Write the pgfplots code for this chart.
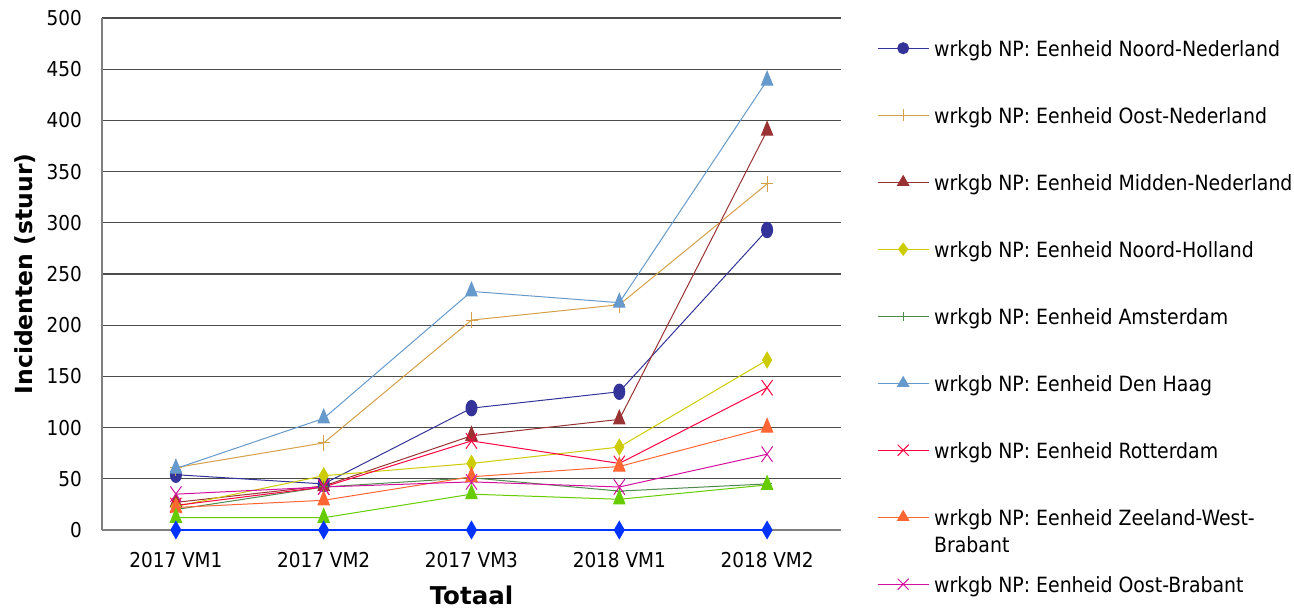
\documentclass[border=0pt]{standalone}
\usepackage{fontspec}
\setmainfont{DejaVu Sans Condensed}
\newfontfamily\labelfont{DejaVu Sans}
\usepackage{pgfplots}
\pgfplotsset{compat=1.18}
\definecolor{cNN}{HTML}{333399}
\definecolor{cON}{HTML}{D4A04A}
\definecolor{cMN}{HTML}{993333}
\definecolor{cNH}{HTML}{CCCC00}
\definecolor{cAM}{HTML}{4F8A4F}
\definecolor{cDH}{HTML}{6699CC}
\definecolor{cRO}{HTML}{FF0040}
\definecolor{cZW}{HTML}{FF6633}
\definecolor{cOB}{HTML}{D4119E}
\definecolor{cLI}{HTML}{66CC00}
\definecolor{cBL}{HTML}{0033FF}
\begin{document}
\begin{tikzpicture}
\path[use as bounding box] (0,0) rectangle (1294pt,608pt);
\begin{axis}[
  at={(102pt,78pt)}, anchor=south west,
  scale only axis, width=739pt, height=512pt,
  xmin=-0.5, xmax=4.5, ymin=0, ymax=500,
  xtick={0,1,2,3,4},
  xticklabels={2017 VM1,2017 VM2,2017 VM3,2018 VM1,2018 VM2},
  ytick={0,50,...,500},
  major tick length=0pt,
  ymajorgrids, major grid style={color=black!70, line width=1.3pt},
  axis x line*=bottom, axis y line*=left,
  axis line style={draw=black!50, line width=1.3pt, -},
  /pgf/number format/assume math mode=true,
  tick label style={font=\fontsize{20.5}{24}\selectfont},
  xticklabel style={inner sep=0pt, anchor=north, yshift=-22pt},
  yticklabel style={inner sep=0pt, anchor=east, xshift=-20pt},
  xlabel={Totaal}, ylabel={Incidenten (stuur)},
  every axis x label/.style={at={(axis description cs:0.5,0)}, anchor=center, yshift=-65pt, font=\labelfont\bfseries\fontsize{24.5}{28}\selectfont},
  every axis y label/.style={at={(axis description cs:0,0.5)}, anchor=center, rotate=90, yshift=77pt, font=\labelfont\bfseries\fontsize{23.5}{26}\selectfont},
  clip=false,
  legend style={at={(1.0487,0.9648)}, anchor=north west, draw=none, fill=none, inner sep=0pt, row sep=43pt, column sep=5pt, font=\fontsize{21}{27}\selectfont, nodes={inner sep=0pt, text height=20pt, text depth=4pt}},
  legend cell align=left,
  legend image code/.code={\draw[mark repeat=2,mark phase=2] plot coordinates {(0pt,0pt) (25.5pt,0pt) (51pt,0pt)};},
  legend image post style={mark options={}},
  every axis plot/.append style={line width=1pt},
]
\addplot[color=cNN, mark=*, mark size=5.5pt, mark options={yscale=1.4}] coordinates {(0,54) (1,45) (2,119) (3,135) (4,293)};
\addlegendentry{wrkgb NP: Eenheid Noord-Nederland}
\addplot[color=cON, mark=+, mark size=6pt, mark options={yscale=1.35}] coordinates {(0,61) (1,85) (2,205) (3,220) (4,338)};
\addlegendentry{wrkgb NP: Eenheid Oost-Nederland}
\addplot[color=cMN, mark=triangle*, mark size=6.5pt, mark options={yscale=1.4}] coordinates {(0,27) (1,43) (2,92) (3,108) (4,390)};
\addlegendentry{wrkgb NP: Eenheid Midden-Nederland}
\addplot[color=cNH, mark=diamond*, mark size=6pt, mark options={yscale=1.3}] coordinates {(0,23) (1,53) (2,65) (3,81) (4,166)};
\addlegendentry{wrkgb NP: Eenheid Noord-Holland}
\addplot[color=cAM, mark=+, mark size=4.5pt, mark options={yscale=1.3}] coordinates {(0,20) (1,42) (2,51) (3,38) (4,45)};
\addlegendentry{wrkgb NP: Eenheid Amsterdam}
\addplot[color=cDH, mark=triangle*, mark size=6.5pt, mark options={yscale=1.4}] coordinates {(0,60) (1,109) (2,233) (3,222) (4,439)};
\addlegendentry{wrkgb NP: Eenheid Den Haag}
\addplot[color=cRO, mark=x, mark size=7.8pt, mark options={yscale=1.4}] coordinates {(0,24) (1,42) (2,87) (3,65) (4,139)};
\addlegendentry{wrkgb NP: Eenheid Rotterdam}
\addplot[color=cZW, mark=triangle*, mark size=6.5pt, mark options={yscale=1.4}] coordinates {(0,22) (1,29) (2,52) (3,62) (4,100)};
\addlegendentry{\smash{\parbox[t]{330pt}{\raggedright wrkgb NP: Eenheid Zeeland-West-\\Brabant}}}
\addplot[color=cOB, mark=x, mark size=7.8pt, mark options={yscale=1.4}] coordinates {(0,35) (1,42) (2,47) (3,42) (4,74)};
\addlegendentry{wrkgb NP: Eenheid Oost-Brabant}
\addplot[forget plot, color=cLI, mark=triangle*, mark size=6.5pt, mark options={yscale=1.4}] coordinates {(0,12) (1,12) (2,35) (3,30) (4,44)};
\addplot[forget plot, color=cBL, line width=1.8pt, mark=diamond*, mark size=6pt, mark options={yscale=1.3}] coordinates {(0,0) (1,0) (2,0) (3,0) (4,0)};
\end{axis}
\end{tikzpicture}
\end{document}
